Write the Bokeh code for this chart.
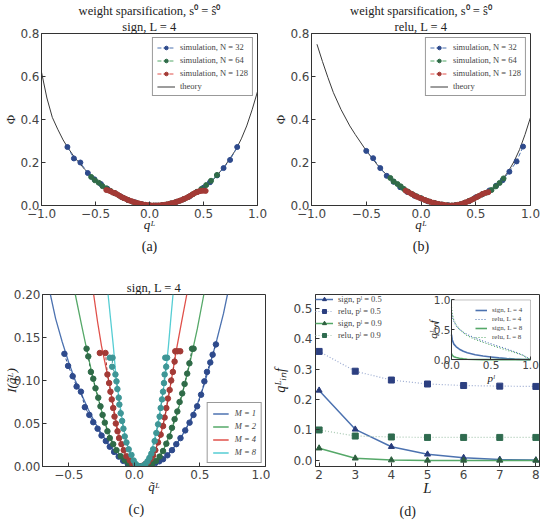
from bokeh.plotting import figure
from bokeh.models import (Range1d, FixedTicker, PrintfTickFormatter, Legend, LegendItem,
                          Title, LinearAxis, BoxAnnotation)
from bokeh.layouts import column, row
from bokeh.embed import file_html
from bokeh.resources import INLINE

# ---------------- data ----------------
# (a) sign, L = 4
A_THEORY_Q = [-1.0, -0.95, -0.9, -0.85, -0.8, -0.76, -0.7, -0.6, -0.5, -0.4, -0.3, -0.2, -0.1, 0.0, 0.05,
              0.1, 0.2, 0.3, 0.4, 0.5, 0.6, 0.7, 0.8, 0.85, 0.9, 0.95, 1.0]
A_THEORY_PHI = [0.62, 0.5, 0.41, 0.355, 0.305, 0.272, 0.228, 0.168, 0.12, 0.082, 0.052, 0.027, 0.01, 0.001, 0.0,
                0.001, 0.01, 0.027, 0.052, 0.083, 0.125, 0.185, 0.26, 0.31, 0.37, 0.445, 0.53]
A_N32_Q = [-0.76, -0.70, -0.64, -0.571, -0.51, -0.45, -0.39, -0.32, -0.26, -0.2, -0.135, -0.07, 0.0, 0.06,
           0.12, 0.19, 0.25, 0.31, 0.37, 0.44, 0.5, 0.56, 0.626, 0.686, 0.746, 0.812]
A_N32_PHI = [0.272, 0.219, 0.2, 0.151, 0.122, 0.1, 0.078, 0.057, 0.04, 0.026, 0.015, 0.006, 0.001, 0.0,
             0.002, 0.008, 0.017, 0.028, 0.042, 0.063, 0.083, 0.108, 0.14, 0.174, 0.212, 0.272]
A_N64_Q = [-0.54, -0.505, -0.47, -0.435, -0.40, -0.36, -0.32, -0.28, -0.24, -0.2, -0.16, -0.12, -0.08, -0.04,
           0.0, 0.04, 0.08, 0.12, 0.16, 0.2, 0.24, 0.28, 0.32, 0.36, 0.40, 0.44, 0.48, 0.525, 0.57, 0.625]
A_N64_PHI = [0.133, 0.117, 0.106, 0.09, 0.08, 0.068, 0.057, 0.046, 0.035, 0.026, 0.018, 0.012, 0.007, 0.003,
             0.001, 0.0, 0.0, 0.002, 0.005, 0.01, 0.015, 0.022, 0.03, 0.04, 0.052, 0.064, 0.077, 0.095, 0.115, 0.142]
A_N128_Q = [-0.40, -0.38, -0.36, -0.34, -0.32, -0.30, -0.28, -0.26, -0.24, -0.22, -0.20, -0.18, -0.16, -0.14,
            -0.12, -0.10, -0.08, -0.06, -0.04, -0.02, 0.0, 0.02, 0.04, 0.06, 0.08, 0.10, 0.12, 0.14, 0.16, 0.18,
            0.20, 0.22, 0.24, 0.26, 0.28, 0.30, 0.32, 0.34, 0.36, 0.38, 0.40, 0.42, 0.44, 0.46, 0.48, 0.50, 0.52]
A_N128_PHI = [0.072, 0.070, 0.066, 0.060, 0.058, 0.052, 0.046, 0.040, 0.035, 0.031, 0.026, 0.022, 0.019, 0.015,
              0.012, 0.010, 0.007, 0.005, 0.003, 0.002, 0.001, 0.000, 0.000, 0.000, 0.000, 0.001, 0.002, 0.003,
              0.005, 0.007, 0.010, 0.012, 0.015, 0.019, 0.022, 0.026, 0.031, 0.035, 0.040, 0.046, 0.052, 0.058,
              0.062, 0.066, 0.068, 0.069, 0.068]

# (b) relu, L = 4
B_THEORY_Q = [-0.95, -0.9, -0.85, -0.8, -0.73, -0.65, -0.6, -0.5, -0.4, -0.3, -0.2, -0.1, 0.0, 0.1, 0.2, 0.27,
              0.35, 0.42, 0.5, 0.6, 0.65, 0.7, 0.75, 0.8, 0.85, 0.9, 0.95, 1.0]
B_THEORY_PHI = [0.75, 0.67, 0.595, 0.525, 0.446, 0.37, 0.33, 0.255, 0.19, 0.134, 0.09, 0.056, 0.033, 0.015,
                0.004, 0.0, 0.006, 0.02, 0.038, 0.06, 0.077, 0.1, 0.126, 0.16, 0.205, 0.26, 0.33, 0.41]
B_N32_Q = [-0.5, -0.437, -0.372, -0.313, -0.25, -0.19, -0.125, -0.06, 0.0, 0.06, 0.125, 0.19, 0.25, 0.31,
           0.375, 0.44, 0.5, 0.56, 0.625, 0.686, 0.746, 0.807, 0.873, 0.932]
B_N32_PHI = [0.254, 0.22, 0.174, 0.138, 0.11, 0.085, 0.063, 0.045, 0.033, 0.02, 0.011, 0.004, 0.001, 0.001,
             0.006, 0.02, 0.038, 0.052, 0.07, 0.092, 0.118, 0.157, 0.205, 0.274]
B_N64_Q = [-0.28, -0.25, -0.215, -0.185, -0.156, -0.12, -0.08, -0.04, 0.0, 0.04, 0.08, 0.12, 0.16, 0.2, 0.24,
           0.28, 0.32, 0.36, 0.4, 0.44, 0.48, 0.52, 0.56, 0.6, 0.644, 0.683, 0.718, 0.754]
B_N64_PHI = [0.128, 0.112, 0.1, 0.089, 0.077, 0.065, 0.053, 0.043, 0.034, 0.025, 0.018, 0.012, 0.007, 0.004,
             0.001, 0.0, 0.002, 0.006, 0.013, 0.022, 0.031, 0.042, 0.052, 0.06, 0.072, 0.089, 0.105, 0.126]
B_N128_Q = [-0.14, -0.115, -0.09, -0.065, -0.04, -0.015, 0.01, 0.035, 0.06, 0.085, 0.11, 0.135, 0.16, 0.185,
            0.21, 0.235, 0.26, 0.285, 0.31, 0.335, 0.36, 0.385, 0.41, 0.435, 0.46, 0.485, 0.51, 0.535, 0.56,
            0.585, 0.615]
B_N128_PHI = [0.069, 0.062, 0.055, 0.048, 0.041, 0.036, 0.031, 0.026, 0.021, 0.017, 0.013, 0.01, 0.007, 0.005,
              0.003, 0.001, 0.0, 0.0, 0.001, 0.003, 0.006, 0.01, 0.015, 0.02, 0.026, 0.032, 0.039, 0.046, 0.053,
              0.058, 0.062]

# (c) sign, L = 4, theory curves
C_M1_Q = [-0.64, -0.6, -0.55, -0.5, -0.45, -0.4, -0.35, -0.3, -0.25, -0.2, -0.15, -0.1, -0.05, 0.0, 0.04,
          0.08, 0.13, 0.18, 0.23, 0.28, 0.33, 0.38, 0.43, 0.48, 0.53, 0.58, 0.63, 0.68, 0.71]
C_M1_I = [0.2, 0.172, 0.145, 0.121, 0.1, 0.083, 0.066, 0.051, 0.038, 0.027, 0.017, 0.009, 0.004, 0.001, 0.0,
          0.001, 0.003, 0.005, 0.01, 0.018, 0.028, 0.04, 0.055, 0.072, 0.094, 0.12, 0.148, 0.178, 0.2]
C_M2_Q = [-0.45, -0.4, -0.35, -0.3, -0.25, -0.2, -0.15, -0.1, -0.05, 0.0, 0.04, 0.08, 0.13, 0.18, 0.23, 0.28,
          0.33, 0.38, 0.43, 0.48, 0.53]
C_M2_I = [0.2, 0.163, 0.127, 0.093, 0.065, 0.04, 0.023, 0.011, 0.004, 0.001, 0.0, 0.001, 0.004, 0.009, 0.022,
          0.041, 0.063, 0.093, 0.125, 0.16, 0.2]
C_M4_Q = [-0.31, -0.28, -0.25, -0.22, -0.19, -0.16, -0.13, -0.1, -0.07, -0.04, 0.0, 0.04, 0.08, 0.12, 0.16,
          0.2, 0.24, 0.28, 0.32, 0.36, 0.4]
C_M4_I = [0.2, 0.168, 0.14, 0.118, 0.096, 0.07, 0.045, 0.027, 0.014, 0.006, 0.001, 0.0, 0.002, 0.008, 0.019,
          0.036, 0.063, 0.098, 0.135, 0.168, 0.2]
C_M8_Q = [-0.2, -0.18, -0.16, -0.14, -0.12, -0.1, -0.08, -0.06, -0.04, -0.02, 0.0, 0.02, 0.04, 0.06, 0.08,
          0.1, 0.12, 0.14, 0.16, 0.18, 0.2, 0.22, 0.24, 0.26, 0.28, 0.295]
C_M8_I = [0.2, 0.17, 0.14, 0.105, 0.083, 0.062, 0.043, 0.029, 0.019, 0.01, 0.004, 0.001, 0.0, 0.001, 0.004,
          0.01, 0.016, 0.023, 0.036, 0.05, 0.068, 0.088, 0.11, 0.14, 0.175, 0.2]
# (c) simulations
C_M1_SQ = [-0.533, -0.505, -0.47, -0.44, -0.407, -0.377, -0.343, -0.313, -0.28, -0.25, -0.217, -0.187, -0.154,
           -0.119, -0.085, -0.05, -0.02, 0.01, 0.04, 0.07, 0.1, 0.13, 0.16, 0.19, 0.219, 0.252, 0.287, 0.32,
           0.352, 0.388, 0.421, 0.451, 0.479, 0.509, 0.534, 0.554, 0.579, 0.597, 0.622]
C_M1_SI = [0.131, 0.117, 0.105, 0.093, 0.087, 0.069, 0.06, 0.0515, 0.044, 0.036, 0.0296, 0.023, 0.017,
           0.0115, 0.0066, 0.003, 0.001, 0.0, 0.0, 0.0, 0.001, 0.002, 0.004, 0.006, 0.0085, 0.013, 0.019, 0.026,
           0.033, 0.042, 0.051, 0.06, 0.07, 0.0835, 0.099, 0.11, 0.121, 0.13, 0.142]
C_M2_SQ = [-0.364, -0.351, -0.331, -0.313, -0.296, -0.275, -0.258, -0.242, -0.225, -0.205, -0.187, -0.161,
           -0.136, -0.104, -0.073, -0.045, -0.015, 0.015, 0.045, 0.075, 0.105, 0.135, 0.165, 0.193, 0.219,
           0.244, 0.269, 0.287, 0.307, 0.328, 0.345, 0.365, 0.383, 0.403, 0.42, 0.44, 0.452]
C_M2_SI = [0.137, 0.128, 0.11, 0.102, 0.091, 0.08, 0.07, 0.06, 0.051, 0.041, 0.033, 0.026, 0.019, 0.012,
           0.0074, 0.004, 0.0015, 0.0, 0.0, 0.0, 0.001, 0.003, 0.0065, 0.0115, 0.018, 0.0265, 0.035, 0.045,
           0.055, 0.064, 0.075, 0.085, 0.096, 0.108, 0.12, 0.137, 0.137]
C_M4_SQ = [-0.263, -0.22, -0.205, -0.192, -0.182, -0.172, -0.161, -0.151, -0.141, -0.128, -0.116, -0.098,
           -0.081, -0.06, -0.035, -0.015, 0.005, 0.025, 0.045, 0.065, 0.085, 0.105, 0.125, 0.143, 0.16, 0.181,
           0.201, 0.219, 0.231, 0.244, 0.256, 0.269, 0.281, 0.294, 0.307, 0.312, 0.33, 0.35]
C_M4_SI = [0.132, 0.132, 0.107, 0.097, 0.087, 0.078, 0.068, 0.058, 0.05, 0.041, 0.033, 0.026, 0.019, 0.012,
           0.007, 0.003, 0.001, 0.0, 0.0, 0.001, 0.003, 0.005, 0.009, 0.013, 0.019, 0.028, 0.037, 0.047, 0.057,
           0.068, 0.079, 0.089, 0.1, 0.11, 0.122, 0.134, 0.134, 0.134]
C_M8_SQ = [-0.187, -0.166, -0.169, -0.144, -0.136, -0.129, -0.119, -0.114, -0.104, -0.093, -0.083, -0.073,
           -0.06, -0.043, -0.022, -0.005, 0.01, 0.025, 0.04, 0.055, 0.07, 0.085, 0.1, 0.115, 0.13, 0.143, 0.155,
           0.168, 0.181, 0.193, 0.201, 0.211, 0.219, 0.226, 0.231, 0.243, 0.236, 0.25]
C_M8_SI = [0.1265, 0.1265, 0.116, 0.107, 0.099, 0.09, 0.08, 0.072, 0.062, 0.053, 0.044, 0.035, 0.028, 0.02,
           0.0135, 0.007, 0.003, 0.001, 0.0, 0.0, 0.001, 0.003, 0.006, 0.01, 0.015, 0.02, 0.0296, 0.039, 0.049,
           0.058, 0.068, 0.078, 0.087, 0.097, 0.107, 0.116, 0.1265, 0.1265]

# (d)
D_L = [2, 3, 4, 5, 6, 7, 8]
D_SIGN_05 = [0.23, 0.102, 0.045, 0.02, 0.009, 0.003, 0.001]
D_RELU_05 = [0.358, 0.293, 0.264, 0.251, 0.246, 0.244, 0.243]
D_SIGN_09 = [0.04, 0.007, 0.001, 0.0, 0.0, 0.0, 0.0]
D_RELU_09 = [0.1, 0.08, 0.077, 0.0755, 0.0755, 0.0755, 0.0755]
# (d) inset
IN_P = [0.0, 0.01, 0.03, 0.06, 0.1, 0.15, 0.2, 0.3, 0.4, 0.5, 0.6, 0.7, 0.8, 0.9, 1.0]
IN_SIGN_L4 = [0.42, 0.33, 0.26, 0.215, 0.175, 0.14, 0.115, 0.082, 0.06, 0.045, 0.03, 0.018, 0.009, 0.003, 0.0]
IN_RELU_L4 = [0.8, 0.72, 0.64, 0.57, 0.51, 0.46, 0.42, 0.36, 0.31, 0.265, 0.22, 0.18, 0.13, 0.077, 0.0]
IN_SIGN_L8 = [0.1, 0.07, 0.05, 0.035, 0.022, 0.013, 0.007, 0.002, 0.0, 0.0, 0.0, 0.0, 0.0, 0.0, 0.0]
IN_RELU_L8 = [0.88, 0.76, 0.66, 0.58, 0.51, 0.45, 0.4, 0.34, 0.29, 0.243, 0.2, 0.16, 0.12, 0.0755, 0.0]

# tick values / labels
AB_XTICKS = [-1.0, -0.5, 0.0, 0.5, 1.0]
AB_YTICKS = [0.0, 0.2, 0.4, 0.6, 0.8]
C_XTICKS = [-0.5, 0.0, 0.5, 1.0]
C_YTICKS = [0.0, 0.05, 0.1, 0.15, 0.2]
D_YTICKS = [0.0, 0.1, 0.2, 0.3, 0.4, 0.5]
IN_TICKS = [0.0, 0.5, 1.0]
NEG_LABELS = {-1.0: "\u22121.0", -0.5: "\u22120.5"}

# ---------------- styling helpers ----------------
SERIF = "Liberation Serif"
SANS = "DejaVu Sans"
DARK = "#333333"

BLUE, GREEN, RED, CYAN = "#4C72B0", "#55A868", "#E0504A", "#55CDD3"
DBLUE, DGREEN, DRED, DCYAN = "#2E4A8C", "#2F6B48", "#A33A36", "#3E9696"


def make_fig(w, h, l, r, t, b, xr, yr):
    p = figure(width=w, height=h, x_range=Range1d(*xr), y_range=Range1d(*yr),
               output_backend="svg", toolbar_location=None,
               min_border_left=l, min_border_right=r, min_border_top=t, min_border_bottom=b)
    p.xgrid.visible = False
    p.ygrid.visible = False
    p.outline_line_color = DARK
    p.outline_line_width = 1
    p.background_fill_color = "white"
    p.border_fill_color = "white"
    return p


def style_axis(ax, ticks, fmt, label, label_style="normal", overrides=None,
               font_size="12px", label_size="13px", tick_in=4):
    ax.ticker = FixedTicker(ticks=ticks)
    ax.formatter = PrintfTickFormatter(format=fmt)
    if overrides:
        ax.major_label_overrides = overrides
    ax.axis_label = label
    ax.axis_label_text_font = SERIF
    ax.axis_label_text_font_size = label_size
    ax.axis_label_text_font_style = label_style
    ax.axis_label_text_color = "#222222"
    ax.major_label_text_font = SANS
    ax.major_label_text_font_size = font_size
    ax.major_label_text_color = "#444444"
    ax.axis_line_color = DARK
    ax.major_tick_line_color = DARK
    ax.major_tick_in = tick_in
    ax.major_tick_out = 0
    ax.minor_tick_line_color = None
    ax.major_label_standoff = 3
    ax.axis_label_standoff = 2


def add_title(p, text, side, size, align="center", offset=0, standoff=0):
    p.add_layout(Title(text=text, align=align, offset=offset, standoff=standoff, text_font=SERIF,
                       text_font_size=size, text_font_style="normal", text_color="#222222"), side)


def sim(p, xs, ys, lc, dc, size=5):
    r1 = p.line(xs, ys, line_color=lc, line_dash="4 2", line_width=1)
    r2 = p.scatter(xs, ys, size=size, fill_color=dc, line_color=dc)
    return [r1, r2]


# ---------------- panel (a) & (b) ----------------
def phi_panel(w, l, r, tq, tphi, sims, sub, caption):
    p = make_fig(w, 255, l, r, 33, 48, (-1, 1), (0, 0.8))
    rt = p.line(tq, tphi, line_color="#3a3a3a", line_width=1)
    items = []
    for (xs, ys, lc, dc, lab) in sims:
        items.append(LegendItem(label=lab, renderers=sim(p, xs, ys, lc, dc)))
    items.append(LegendItem(label="theory", renderers=[rt]))
    style_axis(p.xaxis[0], AB_XTICKS, "%.1f", "q\u1D38", "italic", NEG_LABELS)
    style_axis(p.yaxis[0], AB_YTICKS, "%.1f", None)
    p.xaxis[0].axis_label_standoff = -4
    p.yaxis[0].major_label_standoff = 2
    leg = Legend(items=items, location="top_right", label_text_font=SERIF, label_text_font_size="8.5px",
                 label_height=9, glyph_height=9, glyph_width=18, spacing=3, padding=4, margin=4,
                 label_standoff=5, border_line_color=DARK, border_line_width=1, background_fill_alpha=1)
    p.add_layout(leg)
    add_title(p, "\u03A6", "left", "13px")
    add_title(p, sub, "above", "12.5px")
    add_title(p, "weight sparsification, s\u2070 = \u015D\u2070", "above", "12.5px")
    add_title(p, caption, "below", "14px", standoff=4)
    return p


pa = phi_panel(270, 35, 13, A_THEORY_Q, A_THEORY_PHI,
               [(A_N32_Q, A_N32_PHI, BLUE, DBLUE, "simulation, N = 32"),
                (A_N64_Q, A_N64_PHI, GREEN, DGREEN, "simulation, N = 64"),
                (A_N128_Q, A_N128_PHI, RED, DRED, "simulation, N = 128")],
               "sign, L = 4", "(a)")
pb = phi_panel(273, 35, 13, B_THEORY_Q, B_THEORY_PHI,
               [(B_N32_Q, B_N32_PHI, BLUE, DBLUE, "simulation, N = 32"),
                (B_N64_Q, B_N64_PHI, GREEN, DGREEN, "simulation, N = 64"),
                (B_N128_Q, B_N128_PHI, RED, DRED, "simulation, N = 128")],
               "relu, L = 4", "(b)")

# ---------------- panel (c) ----------------
pc = make_fig(270, 266, 41, 5, 37, 55, (-0.7, 1.0), (0, 0.2))
c_items = []
for q, I, col, lab in [(C_M1_Q, C_M1_I, BLUE, "M = 1"), (C_M2_Q, C_M2_I, GREEN, "M = 2"),
                       (C_M4_Q, C_M4_I, RED, "M = 4"), (C_M8_Q, C_M8_I, CYAN, "M = 8")]:
    r = pc.line(q, I, line_color=col, line_width=1.3)
    c_items.append(LegendItem(label=lab, renderers=[r]))
for q, I, col in [(C_M1_SQ, C_M1_SI, DBLUE), (C_M2_SQ, C_M2_SI, DGREEN),
                  (C_M4_SQ, C_M4_SI, DRED), (C_M8_SQ, C_M8_SI, DCYAN)]:
    pc.line(q, I, line_color=col, line_dash="3 2", line_width=1)
    pc.scatter(q, I, size=5.5, fill_color=col, line_color=col)
style_axis(pc.xaxis[0], C_XTICKS, "%.1f", "q\u0303\u1D38", "italic", {-0.5: "\u22120.5"})
style_axis(pc.yaxis[0], C_YTICKS, "%.2f", "I(q\u0303\u1D38)", "italic")
pc.xaxis[0].axis_label_standoff = -3
pc.yaxis[0].axis_label_standoff = -8
pc.yaxis[0].major_label_standoff = 2
leg_c = Legend(items=c_items, location="bottom_right", label_text_font=SERIF, label_text_font_size="8.5px",
               label_text_font_style="italic",
               label_height=9, glyph_height=9, glyph_width=16, spacing=3, padding=5, margin=3,
               label_standoff=6, border_line_color=DARK, border_line_width=1, background_fill_alpha=1)
pc.add_layout(leg_c)
add_title(pc, "sign, L = 4", "above", "12.5px")
add_title(pc, "(c)", "below", "14px", align="left", offset=86, standoff=6)

# ---------------- panel (d) ----------------
pd = make_fig(273, 266, 45, 4, 39, 54, (1.9, 8.1), (-0.02, 0.545))
d_items = []
for ys, lc, mc, dash, marker, lab in [
        (D_SIGN_05, BLUE, "#283C7C", "solid", "triangle", "sign, p\u02E1 = 0.5"),
        (D_RELU_05, "#9AAAD0", "#2C3F80", "1 2", "square", "relu, p\u02E1 = 0.5"),
        (D_SIGN_09, GREEN, "#2D5E3E", "solid", "triangle", "sign, p\u02E1 = 0.9"),
        (D_RELU_09, "#A9C9B3", "#2F6B4F", "1 2", "square", "relu, p\u02E1 = 0.9")]:
    r1 = pd.line(D_L, ys, line_color=lc, line_width=1.5 if dash == "solid" else 1.2, line_dash=dash)
    r2 = pd.scatter(D_L, ys, marker=marker, size=6, fill_color=mc, line_color=mc)
    d_items.append(LegendItem(label=lab, renderers=[r1, r2]))
style_axis(pd.xaxis[0], D_L, "%d", "L", "italic", label_size="15px")
style_axis(pd.yaxis[0], D_YTICKS, "%.1f", "q\u1D38\u1D62\u2099f", "italic", label_size="14px")
pd.xaxis[0].axis_label_standoff = -2
pd.yaxis[0].axis_label_standoff = 2
leg_d = Legend(items=d_items, location="top_left", label_text_font=SERIF, label_text_font_size="8.5px",
               label_height=10, glyph_height=10, glyph_width=18, spacing=2, padding=5, margin=0,
               label_standoff=5, border_line_color=None, background_fill_alpha=0)
pd.add_layout(leg_d)

# inset, drawn in extra ranges of panel (d)
pd.extra_x_ranges = {"ix": Range1d(-1.7213, 1.114)}
pd.extra_y_ranges = {"iy": Range1d(-1.7918, 1.0917)}
pd.add_layout(BoxAnnotation(left=0, right=1, bottom=0, top=1, x_range_name="ix", y_range_name="iy",
                            fill_color="white", fill_alpha=1, line_color=DARK, line_width=1,
                            level="underlay"))
in_items = []
for ys, col, dash, w, lab in [(IN_SIGN_L4, BLUE, "solid", 1.6, "sign, L = 4"),
                              (IN_RELU_L4, BLUE, "1 2", 1.2, "relu, L = 4"),
                              (IN_SIGN_L8, GREEN, "solid", 1.6, "sign, L = 8"),
                              (IN_RELU_L8, GREEN, "1 2", 1.2, "relu, L = 8")]:
    r = pd.line(IN_P, ys, line_color=col, line_dash=dash, line_width=w, x_range_name="ix", y_range_name="iy")
    in_items.append(LegendItem(label=lab, renderers=[r]))
iax = LinearAxis(x_range_name="ix", y_range_name="iy", fixed_location=0, bounds=(0, 1))
style_axis(iax, IN_TICKS, "%.1f", "p\u02E1", "italic", font_size="10.5px", label_size="11px", tick_in=3)
iax.major_label_standoff = 1
iax.axis_label_standoff = 0
pd.add_layout(iax, "below")
iay = LinearAxis(x_range_name="ix", y_range_name="iy", fixed_location=0, bounds=(0, 1))
style_axis(iay, IN_TICKS, "%.1f", "q\u1D38\u1D62\u2099f", "italic", font_size="10.5px", label_size="11px",
           tick_in=3)
iay.major_label_standoff = 1
iay.axis_label_standoff = -8
pd.add_layout(iay, "left")
leg_in = Legend(items=in_items, location=(160, 125), label_text_font=SERIF, label_text_font_size="7px",
                label_height=8, glyph_height=8, glyph_width=12, spacing=1, padding=3, margin=0,
                label_standoff=5, border_line_color=None, background_fill_alpha=0)
pd.add_layout(leg_in)
add_title(pd, "(d)", "below", "14px", align="left", offset=84, standoff=6)

layout = column(row(pa, pb), row(pc, pd))
open("out.html", "w").write(file_html(layout, INLINE))
